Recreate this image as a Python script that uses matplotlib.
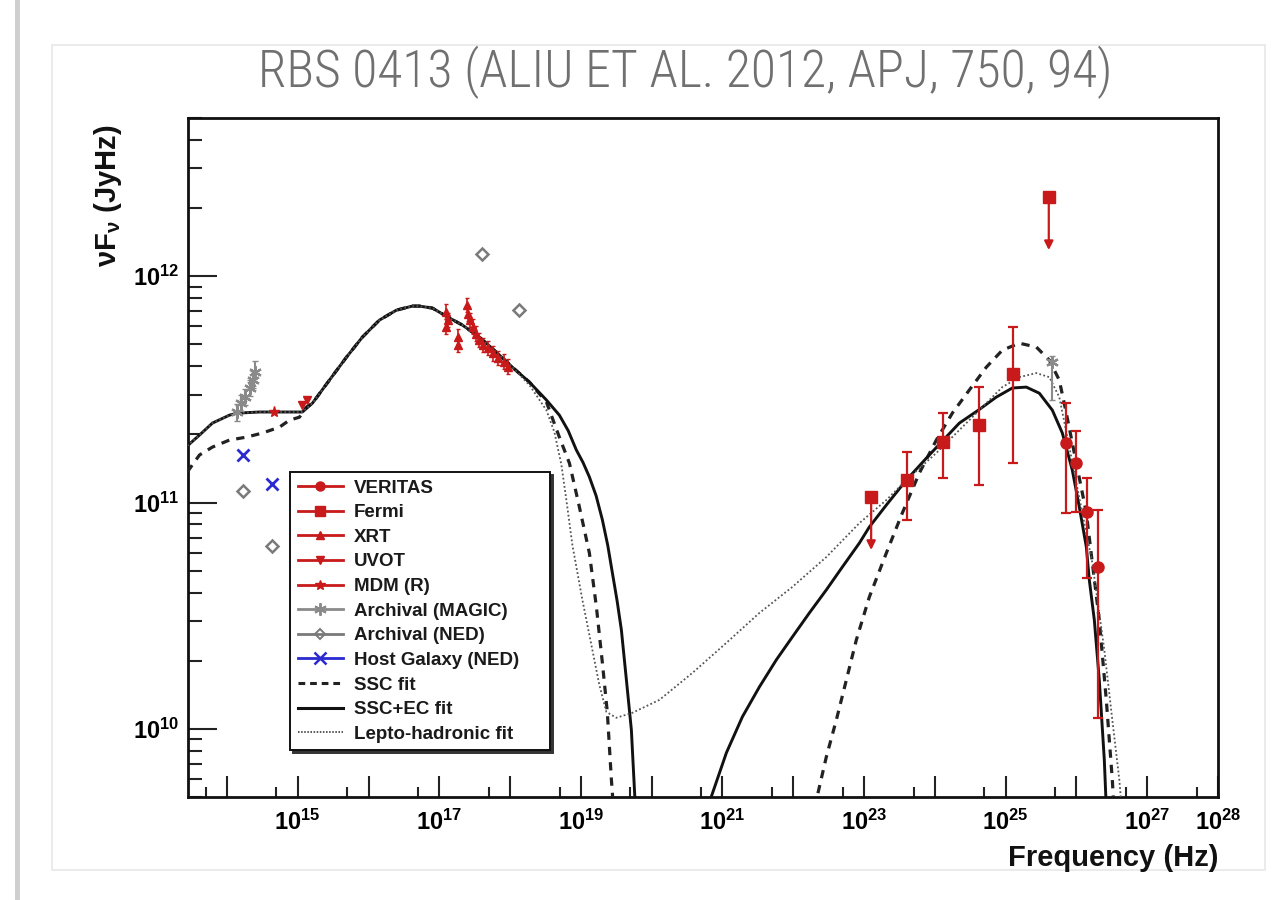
import numpy as np
import matplotlib
matplotlib.use("Agg")
import matplotlib.pyplot as plt
from matplotlib.ticker import FixedLocator, FuncFormatter, NullFormatter
from matplotlib.lines import Line2D
from matplotlib.patches import Rectangle

plt.rcParams['font.family'] = ['Liberation Sans', 'DejaVu Sans']
plt.rcParams['mathtext.fontset'] = 'custom'
plt.rcParams['mathtext.rm'] = 'Liberation Sans:bold'
plt.rcParams['mathtext.bf'] = 'Liberation Sans:bold'
plt.rcParams['mathtext.it'] = 'Liberation Sans:bold'

# ---------------- data ----------------
title = "RBS 0413 (ALIU ET AL. 2012, APJ, 750, 94)"

veritas_nu = [7.08e25, 1.00e26, 1.41e26, 2.04e26]
veritas_flux = [1.83e11, 1.49e11, 9.1e10, 5.2e10]
veritas_lo = [8.98e10, 9.1e10, 4.65e10, 1.12e10]
veritas_hi = [2.75e11, 2.06e11, 1.28e11, 9.27e10]

fermi_nu = [3.98e23, 1.32e24, 4.17e24, 1.29e25]
fermi_flux = [1.26e11, 1.86e11, 2.20e11, 3.69e11]
fermi_lo = [8.4e10, 1.28e11, 1.19e11, 1.49e11]
fermi_hi = [1.67e11, 2.48e11, 3.24e11, 5.97e11]
fermi_ul_nu = [1.26e23, 4.07e25]
fermi_ul_flux = [1.06e11, 2.24e12]

xrt_nu = [1.25e17, 1.32e17, 1.25e17, 1.82e17, 1.82e17, 2.44e17, 2.52e17, 2.72e17,
          2.96e17, 3.31e17, 3.68e17, 4.10e17, 4.83e17, 5.68e17, 6.68e17, 8.30e17, 9.25e17]
xrt_flux = [6.95e11, 6.40e11, 5.97e11, 5.40e11, 4.95e11, 7.45e11, 6.84e11, 6.40e11,
            5.97e11, 5.58e11, 5.21e11, 4.95e11, 4.80e11, 4.56e11, 4.34e11, 4.19e11, 3.98e11]

uvot_nu = [1.16e15, 1.37e15]
uvot_flux = [2.69e11, 2.84e11]

mdm_nu = [4.68e14]
mdm_flux = [2.50e11]

magic_nu = [1.41e14, 1.58e14, 1.82e14, 2.14e14, 2.34e14, 2.51e14, 4.57e25]
magic_flux = [2.50e11, 2.75e11, 2.93e11, 3.20e11, 3.48e11, 3.77e11, 4.19e11]
magic_lo = [2.30e11, 2.55e11, 2.70e11, 2.95e11, 3.20e11, 3.40e11, 2.83e11]
magic_hi = [2.72e11, 2.98e11, 3.18e11, 3.48e11, 3.80e11, 4.20e11, 4.45e11]

ned_nu = [1.66e14, 4.27e14, 3.98e17, 1.35e18]
ned_flux = [1.12e11, 6.4e10, 1.25e12, 7.08e11]

host_nu = [1.70e14, 4.27e14]
host_flux = [1.62e11, 1.21e11]

# model curves (log10 nu, log10 nuFnu)
ssc_ec_sync_lognu = [13.44, 13.612, 13.795, 14.035, 14.148, 14.459, 14.883, 15.066, 15.208, 15.448,
                     15.688, 15.914, 16.154, 16.394, 16.620, 16.719, 16.903, 17.100, 17.326, 17.566,
                     17.806, 18.032, 18.273, 18.513, 18.696, 18.82, 18.936, 19.030, 19.120, 19.215,
                     19.304, 19.380, 19.445, 19.512, 19.572, 19.643, 19.713, 19.77]
ssc_ec_sync_logf = [11.25, 11.298, 11.351, 11.386, 11.395, 11.400, 11.400, 11.400, 11.439, 11.541,
                    11.642, 11.731, 11.806, 11.850, 11.868, 11.868, 11.859, 11.823, 11.784, 11.731,
                    11.664, 11.598, 11.532, 11.453, 11.386, 11.318, 11.232, 11.177, 11.113, 11.030,
                    10.923, 10.810, 10.689, 10.565, 10.437, 10.216, 9.996, 9.65]
ssc_ec_ic_lognu = [20.787, 21.055, 21.281, 21.521, 21.761, 21.987, 22.227, 22.467, 22.693, 22.934,
                   23.075, 23.315, 23.597, 23.880, 24.120, 24.346, 24.614, 24.869, 25.095, 25.292,
                   25.476, 25.660, 25.801, 25.942, 26.041, 26.140, 26.182, 26.253, 26.323, 26.394,
                   26.422]
ssc_ec_ic_logf = [9.65, 9.894, 10.053, 10.185, 10.305, 10.406, 10.512, 10.614, 10.715, 10.821,
                  10.892, 10.989, 11.099, 11.196, 11.276, 11.351, 11.408, 11.466, 11.506, 11.510,
                  11.483, 11.408, 11.307, 11.143, 10.980, 10.804, 10.658, 10.481, 10.216, 9.863,
                  9.65]

ssc_sync_lognu = [13.44, 13.612, 13.795, 14.035, 14.275, 14.501, 14.742, 14.883, 15.024, 15.123,
                  15.208, 15.448, 15.688, 15.914, 16.154, 16.394, 16.620, 16.719, 16.903, 17.100,
                  17.326, 17.566, 17.806, 18.032, 18.273, 18.513, 18.696, 18.838, 18.979, 19.120,
                  19.219, 19.304, 19.374, 19.431, 19.46]
ssc_sync_logf = [11.135, 11.210, 11.245, 11.276, 11.289, 11.307, 11.333, 11.364, 11.377, 11.422,
                 11.439, 11.541, 11.642, 11.731, 11.806, 11.850, 11.868, 11.868, 11.859, 11.823,
                 11.784, 11.731, 11.664, 11.598, 11.532, 11.444, 11.289, 11.174, 10.980, 10.777,
                 10.539, 10.291, 10.071, 9.775, 9.65]
ssc_ic_lognu = [22.30, 22.467, 22.609, 22.750, 22.891, 23.075, 23.315, 23.541, 23.781, 24.021,
                24.247, 24.487, 24.727, 24.953, 25.193, 25.434, 25.617, 25.758, 25.857, 25.999,
                26.140, 26.225, 26.323, 26.422, 26.507, 26.53]
ssc_ic_logf = [9.65, 9.876, 10.040, 10.216, 10.393, 10.583, 10.777, 10.954, 11.130, 11.276,
               11.395, 11.497, 11.598, 11.673, 11.704, 11.687, 11.629, 11.541, 11.395, 11.174,
               10.954, 10.733, 10.481, 10.128, 9.775, 9.65]

lh_lognu = [13.44, 13.612, 13.795, 14.035, 14.148, 14.459, 14.883, 15.066, 15.208, 15.448,
            15.688, 15.914, 16.154, 16.394, 16.620, 16.719, 16.903, 17.100, 17.326, 17.566,
            17.806, 18.032, 18.273, 18.513, 18.626, 18.725, 18.795, 18.880, 19.021, 19.162,
            19.261, 19.360, 19.501, 19.727, 20.109, 20.575, 21.055, 21.521, 21.987, 22.467,
            22.934, 23.315, 23.597, 24.021, 24.487, 24.953, 25.193, 25.434, 25.617, 25.758,
            25.900, 26.083, 26.225, 26.394, 26.507, 26.606, 26.64]
lh_logf = [11.25, 11.298, 11.351, 11.386, 11.395, 11.400, 11.400, 11.400, 11.439, 11.541,
           11.642, 11.731, 11.806, 11.850, 11.868, 11.868, 11.859, 11.823, 11.784, 11.731,
           11.664, 11.598, 11.519, 11.408, 11.311, 11.166, 11.011, 10.812, 10.570, 10.349,
           10.194, 10.075, 10.049, 10.071, 10.128, 10.247, 10.380, 10.512, 10.627, 10.759,
           10.909, 11.011, 11.099, 11.219, 11.364, 11.510, 11.554, 11.572, 11.554, 11.466,
           11.245, 10.954, 10.733, 10.349, 10.040, 9.775, 9.65]

x_label_exps = [15, 17, 19, 21, 23, 25, 27, 28]

# ---------------- figure ----------------
W, H = 1283, 900
fig = plt.figure(figsize=(W / 100, H / 100), dpi=100)
fig.patch.set_facecolor('white')

# slide card and left edge (behind the axes)
fig.patches.append(Rectangle((52 / W, 1 - 870 / H), (1265 - 52) / W, (870 - 45) / H,
                             transform=fig.transFigure, facecolor='white',
                             edgecolor='#e8e8e8', lw=1.2, zorder=-5))
fig.patches.append(Rectangle((15 / W, 0), 5 / W, 1, transform=fig.transFigure,
                             facecolor='#cfcfcf', edgecolor='none', zorder=-5))

ttl = fig.text(685 / W, 1 - 72 / H, title, ha='center', va='center', fontsize=44,
               family=['Roboto Condensed', 'Liberation Sans Narrow', 'DejaVu Sans Condensed',
                       'DejaVu Sans'],
               fontweight='light', fontstretch='condensed', color='#707070')
# fit the title to the width it has in the reference (about 854 px)
fig.canvas.draw()
tw = ttl.get_window_extent().width
if tw > 0:
    ttl.set_fontsize(min(48, 44 * 854.0 / tw))

ax = fig.add_axes([188 / W, 1 - 797 / H, (1218 - 188) / W, (797 - 118) / H])
ax.set_xscale('log')
ax.set_yscale('log')
ax.set_xlim(10 ** 13.45, 1e28)
ax.set_ylim(5e9, 5e12)

red = '#c81a1a'
grey_m = '#8a8a8a'
grey_n = '#7a7a7a'
blue = '#2a2ad0'

p10 = lambda a: 10 ** np.asarray(a)

ax.plot(p10(ssc_sync_lognu), p10(ssc_sync_logf), color='#222222', lw=2.3,
        ls=(0, (2.6, 2.2)), zorder=3)
ax.plot(p10(ssc_ic_lognu), p10(ssc_ic_logf), color='#222222', lw=2.3,
        ls=(0, (2.6, 2.2)), zorder=3)
ax.plot(p10(ssc_ec_sync_lognu), p10(ssc_ec_sync_logf), color='#111111', lw=2.1, zorder=3)
ax.plot(p10(ssc_ec_ic_lognu), p10(ssc_ec_ic_logf), color='#111111', lw=2.1, zorder=3)
ax.plot(p10(lh_lognu), p10(lh_logf), color='#555555', lw=1.3, ls=(0, (1, 1.3)), zorder=3)


def yerr(v, lo, hi):
    v = np.asarray(v)
    return [v - np.asarray(lo), np.asarray(hi) - v]


xrt_flux_a = np.asarray(xrt_flux)
ax.errorbar(xrt_nu, xrt_flux, yerr=[xrt_flux_a * 0.07, xrt_flux_a * 0.08], fmt='^', color=red,
            ms=5.5, elinewidth=1.2, capsize=1.5, zorder=5)
ax.errorbar(uvot_nu, uvot_flux, fmt='v', color=red, ms=6, zorder=5)
ax.errorbar(mdm_nu, mdm_flux, fmt='*', color=red, ms=8, zorder=5)
ax.errorbar(magic_nu, magic_flux, yerr=yerr(magic_flux, magic_lo, magic_hi), fmt='none',
            ecolor=grey_m, elinewidth=1.5, capsize=2.5, zorder=4)
ax.plot(magic_nu, magic_flux, ls='none', marker=(6, 2, 0), color=grey_m, ms=9, mew=1.6, zorder=4)
ax.plot(ned_nu, ned_flux, ls='none', marker='D', mfc='none', mec=grey_n, ms=6.5, mew=1.8, zorder=4)
ax.plot(host_nu, host_flux, ls='none', marker='x', color=blue, ms=8, mew=2.0, zorder=4)

ax.errorbar(fermi_nu, fermi_flux, yerr=yerr(fermi_flux, fermi_lo, fermi_hi), fmt='s', color=red,
            ms=8.5, elinewidth=1.6, capsize=3.5, capthick=1.6, zorder=5)
ax.plot(fermi_ul_nu, fermi_ul_flux, ls='none', marker='s', color=red, ms=8.5, zorder=5)
for n, f in zip(fermi_ul_nu, fermi_ul_flux):
    ax.annotate('', xy=(n, f * 10 ** -0.235), xytext=(n, f),
                arrowprops=dict(arrowstyle='-|>', color=red, lw=1.6, mutation_scale=13,
                                shrinkA=0, shrinkB=0), zorder=5)
ax.errorbar(veritas_nu, veritas_flux, yerr=yerr(veritas_flux, veritas_lo, veritas_hi), fmt='o',
            color=red, ms=8, elinewidth=1.6, capsize=3.5, capthick=1.6, zorder=5)

# axes styling
for s in ax.spines.values():
    s.set_linewidth(2.0)
    s.set_color('#111111')

ax.xaxis.set_major_locator(FixedLocator([10.0 ** k for k in range(14, 29)]))
ax.xaxis.set_minor_locator(FixedLocator([5 * 10.0 ** k for k in range(13, 28)]))


def xfmt(v, pos):
    e = int(round(np.log10(v)))
    return r'$\mathbf{10^{%d}}$' % e if e in x_label_exps else ''


ax.xaxis.set_major_formatter(FuncFormatter(xfmt))
ax.xaxis.set_minor_formatter(NullFormatter())
ax.yaxis.set_major_locator(FixedLocator([1e10, 1e11, 1e12]))
ax.yaxis.set_minor_locator(FixedLocator([m * 10.0 ** k for k in range(9, 13) for m in range(2, 10)]))
ax.yaxis.set_major_formatter(FuncFormatter(lambda v, p: r'$\mathbf{10^{%d}}$' % int(round(np.log10(v)))))
ax.yaxis.set_minor_formatter(NullFormatter())

ax.tick_params(which='both', direction='in', top=False, right=False, width=1.5,
               color='#222222', labelsize=17)
ax.xaxis.set_tick_params(which='major', length=15, pad=9)
ax.xaxis.set_tick_params(which='minor', length=7)
ax.yaxis.set_tick_params(which='major', length=21, pad=6)
ax.yaxis.set_tick_params(which='minor', length=10)

ax.text(-0.078, 0.99, r'$\mathbf{\nu F_{\nu}}$ (JyHz)', transform=ax.transAxes, rotation=90,
        ha='center', va='top', fontsize=21, fontweight='bold', color='#111111')
ax.text(1.0, -0.09, 'Frequency (Hz)', transform=ax.transAxes, ha='right', va='center',
        fontsize=21, fontweight='bold', color='#111111')

# legend
handles = [
    Line2D([], [], color=red, marker='o', ms=6.5, lw=2.0),
    Line2D([], [], color=red, marker='s', ms=7, lw=2.0),
    Line2D([], [], color=red, marker='^', ms=5.5, lw=2.0),
    Line2D([], [], color=red, marker='v', ms=5.5, lw=2.0),
    Line2D([], [], color=red, marker='*', ms=7.5, lw=2.0),
    Line2D([], [], color=grey_m, marker=(6, 2, 0), ms=9, mew=1.4, lw=2.0),
    Line2D([], [], color=grey_n, marker='D', mfc='none', ms=5.5, mew=1.4, lw=2.0),
    Line2D([], [], color=blue, marker='x', ms=8, mew=1.8, lw=2.0),
    Line2D([], [], color='#222222', lw=2.2, ls=(0, (2.2, 1.6))),
    Line2D([], [], color='#111111', lw=2.2),
    Line2D([], [], color='#555555', lw=1.4, ls=(0, (0.8, 0.8))),
]
labels = ['VERITAS', 'Fermi', 'XRT', 'UVOT', 'MDM (R)', 'Archival (MAGIC)', 'Archival (NED)',
          'Host Galaxy (NED)', 'SSC fit', 'SSC+EC fit', 'Lepto-hadronic fit']
x0 = (290 - 188) / 1030
x1 = (550 - 188) / 1030
yt = (797 - 472) / 679
leg = ax.legend(handles, labels, loc='upper left', bbox_to_anchor=(x0, yt, x1 - x0, 0.0),
                mode='expand', borderaxespad=0, fontsize=13.5, labelspacing=0.40,
                handlelength=2.4, handletextpad=0.6, borderpad=0.4, fancybox=False,
                frameon=True, edgecolor='#111111', facecolor='white', framealpha=1,
                shadow={'color': '#333333', 'alpha': 1.0})
leg.get_frame().set_linewidth(1.4)
for t in leg.get_texts():
    t.set_fontweight('bold')
    t.set_color('#1a1a1a')
leg.set_zorder(6)

fig.savefig('out.png', dpi=100)
